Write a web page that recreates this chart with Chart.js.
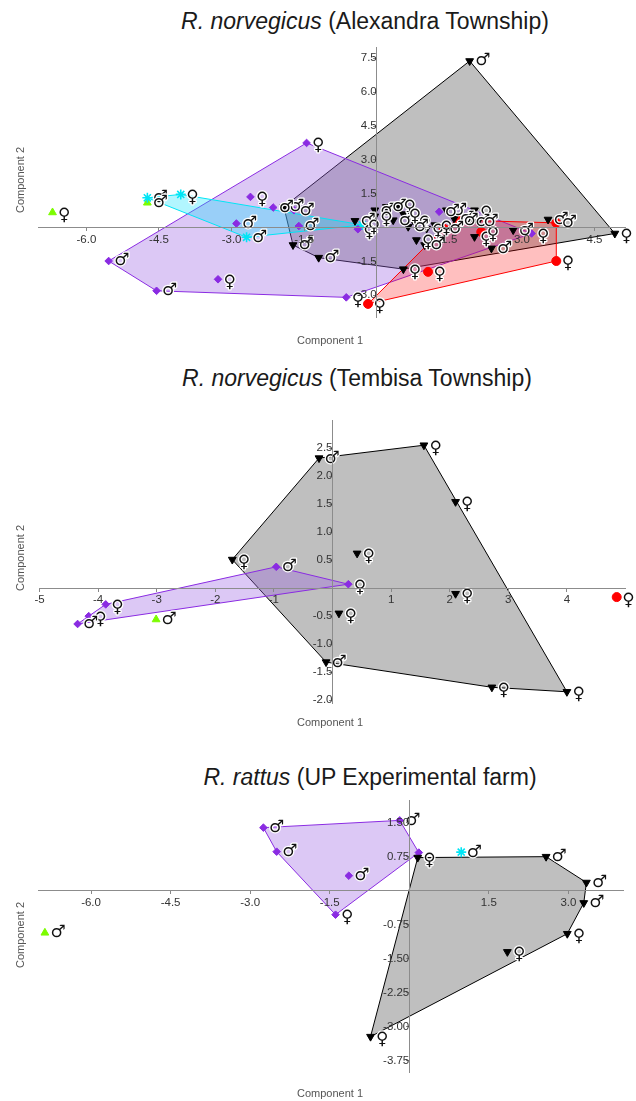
<!DOCTYPE html>
<html>
<head>
<meta charset="utf-8">
<script src="https://cdn.jsdelivr.net/npm/chart.js@4.4.1/dist/chart.umd.min.js"></script>
<style>
  body { margin: 0; background: #fff; width: 636px; height: 1101px; position: relative; overflow: hidden;
         font-family: "Liberation Sans", Arial, sans-serif; }
  canvas { position: absolute; left: 0; }
  .title { position: absolute; font-size: 23px; color: #1a1a1a; white-space: nowrap; transform: translate(-50%, -50%); }
  .xlab, .ylab { position: absolute; font-size: 11px; color: #555; white-space: nowrap; transform: translate(-50%, -50%); }
  .ylab { transform: translate(-50%, -50%) rotate(-90deg); }
</style>
</head>
<body>
<div class="title" style="left:365px;top:21px"><i>R. norvegicus</i> (Alexandra Township)</div>
<div class="title" style="left:357px;top:378px"><i>R. norvegicus</i> (Tembisa Township)</div>
<div class="title" style="left:370px;top:777px"><i>R. rattus</i> (UP Experimental farm)</div>

<canvas id="c1" width="636" height="350" style="top:0px"></canvas>
<canvas id="c2" width="636" height="370" style="top:360px"></canvas>
<canvas id="c3" width="636" height="361" style="top:740px"></canvas>

<div class="xlab" style="left:330px;top:340px">Component 1</div>
<div class="ylab" style="left:20px;top:180px">Component 2</div>
<div class="xlab" style="left:330px;top:722px">Component 1</div>
<div class="ylab" style="left:20px;top:558px">Component 2</div>
<div class="xlab" style="left:330px;top:1093px">Component 1</div>
<div class="ylab" style="left:20px;top:935px">Component 2</div>

<script>
// ---- R. norvegicus, Alexandra Township ----
const alexBlack = [[1.92,7.38],[4.92,-0.26],[0.55,-1.84],[-1.2,-1.33],[-1.73,-0.77],[-1.92,0.92],[-0.45,0.3],
  [-0.04,0.77],[-0.04,0.5],[0.2,0.92],[0.44,1.0],[0.34,0.33],[0.75,0.33],[0.65,0.04],[1.03,-0.04],[0.82,-0.55],
  [0.99,-0.77],[1.44,0.77],[1.2,0.11],[2.02,0.77],[1.92,0.26],[2.09,0.26],[2.02,-0.41],[2.37,-0.92],[3.54,0.36],
  [2.82,-0.11],[0.55,0.6],[1.6,0.4]];
const alexBlackSex = ['M','F','F','M','M','M','M','M','F','M','F','M','F','M','F','F','M','M','F','F','M','M','F','M','M','M','F','M'];
const alexPurple = [[-1.45,3.75],[-5.54,-1.48],[-4.55,-2.8],[-0.63,-3.09],[3.2,-0.26],[-2.61,1.36],[-2.14,0.89],
  [-1.71,0.77],[-2.9,0.18],[-1.61,0.07],[-3.28,-2.29],[-0.39,-0.07],[1.29,0.7]];
const alexPurpleSex = ['F','M','M','F','F','F','M','M','M','M','F','F','M'];
const alexRed = [[-0.18,-3.38],[1.06,-1.96],[1.38,-0.04],[1.68,0.33],[2.16,-0.19],[3.71,0.21],[3.71,-1.48]];
const alexRedSex = ['F','F','M','M','F','M','F'];
const alexCyan = [[-4.74,1.32],[-4.05,1.47],[-2.69,-0.43],[-0.3,0.12]];
const alexCyanSex = ['M','F','M','F'];
const alexGreen = [[-6.70,0.67],[-4.74,1.1]];
const alexGreenSex = ['F','M'];
const alexXTicks = [-6.0,-4.5,-3.0,-1.5,1.5,3.0,4.5];
const alexYTicks = [-3.0,-1.5,1.5,3.0,4.5,6.0,7.5];

// ---- R. norvegicus, Tembisa Township ----
const temBlack = [[-0.23,2.32],[1.56,2.55],[2.1,1.54],[0.42,0.62],[-1.71,0.51],[2.1,-0.1],[0.11,-0.45],
  [-0.11,-1.32],[2.72,-1.77],[4.0,-1.85]];
const temBlackSex = ['M','F','F','F','F','F','F','M','F','F'];
const temPurple = [[-0.96,0.38],[0.27,0.07],[-3.87,-0.29],[-4.16,-0.5],[-4.35,-0.64]];
const temPurpleSex = ['M','F','F','F','M'];
const temGreen = [[-3.01,-0.56]];
const temGreenSex = ['M'];
const temRed = [[4.85,-0.16]];
const temRedSex = ['F'];
const temXTicks = [-5,-4,-3,-2,-1,1,2,3,4];
const temYTicks = [-2.0,-1.5,-1.0,-0.5,0.5,1.0,1.5,2.0,2.5];

// ---- R. rattus, UP Experimental farm ----
const upBlack = [[0.16,0.73],[2.58,0.75],[3.34,0.18],[3.29,-0.27],[2.98,-0.95],[1.85,-1.35],[-0.73,-3.22]];
const upBlackSex = ['F','M','M','M','F','F','F'];
const upPurple = [[-2.75,1.39],[-0.18,1.55],[0.18,0.84],[-2.5,0.86],[-1.14,0.33],[-1.39,-0.53]];
const upPurpleSex = ['M','M',null,'M','M','F'];
const upCyan = [[0.98,0.85]];
const upCyanSex = ['M'];
const upGreen = [[-6.87,-0.93]];
const upGreenSex = ['M'];
const upXTicks = [-6.0,-4.5,-3.0,-1.5,1.5,3.0];
const upYTicks = [-3.75,-3.00,-2.25,-1.50,-0.75,0.75,1.50];

// group looks
const styles = {
  black:  { point: 'triangle', rot: 180, color: '#000', line: '#000', fill: '#bfbfbf', r: 4.5 },
  purple: { point: 'rectRot', rot: 0, color: '#8a2be2', line: '#8a2be2', fill: 'rgba(155,98,226,0.35)', r: 3.8 },
  cyan:   { point: 'star', rot: 0, color: '#00e5f5', line: '#00e5f5', fill: 'rgba(0,225,255,0.3)', r: 5 },
  red:    { point: 'circle', rot: 0, color: '#ff0000', line: '#ff0000', fill: 'rgba(255,0,0,0.25)', r: 4.5 },
  green:  { point: 'triangle', rot: 0, color: '#7cfc00', line: '#7cfc00', fill: 'rgba(124,252,0,0.3)', r: 4.5 }
};
const hullOrder = { black: 10, purple: 9, cyan: 8, red: 7, green: 6 };

// convex hull (monotone chain), closed
function hull(pts) {
  const p = pts.map(a => ({ x: a[0], y: a[1] })).sort((a, b) => a.x - b.x || a.y - b.y);
  const cross = (o, a, b) => (a.x - o.x) * (b.y - o.y) - (a.y - o.y) * (b.x - o.x);
  const lower = [], upper = [];
  for (const q of p) {
    while (lower.length >= 2 && cross(lower[lower.length - 2], lower[lower.length - 1], q) <= 0) lower.pop();
    lower.push(q);
  }
  for (const q of p.slice().reverse()) {
    while (upper.length >= 2 && cross(upper[upper.length - 2], upper[upper.length - 1], q) <= 0) upper.pop();
    upper.push(q);
  }
  upper.pop(); lower.pop();
  const h = lower.concat(upper);
  h.push(h[0]);
  return h;
}

// ♂ / ♀ next to each point
const sexPlugin = {
  id: 'sexLabels',
  afterDatasetsDraw(chart) {
    const ctx = chart.ctx;
    ctx.save();
    ctx.font = '17px "DejaVu Sans"';
    ctx.textAlign = 'left';
    ctx.textBaseline = 'middle';
    ctx.lineJoin = 'round';
    chart.data.datasets.forEach((ds, i) => {
      if (!ds.sexes) return;
      chart.getDatasetMeta(i).data.forEach((el, j) => {
        const s = ds.sexes[j];
        if (!s) return;
        const ch = (s === 'M' ? '\u2642' : '\u2640') + '\uFE0E';
        const x = el.x + 5.5, y = el.y + (s === 'M' ? 0 : 3);
        ctx.lineWidth = 2.5;
        ctx.strokeStyle = '#fff';
        ctx.strokeText(ch, x, y);
        ctx.fillStyle = '#111';
        ctx.fillText(ch, x, y);
      });
    });
    ctx.restore();
  }
};

function makeAxis(min, max, ticks, fmt, pos) {
  return {
    type: 'linear', min: min, max: max, position: pos,
    afterBuildTicks: s => { s.ticks = ticks.map(v => ({ value: v })); },
    ticks: { z: 2, autoSkip: false, maxRotation: 0, padding: 2, color: '#333',
             font: { family: '"Liberation Sans Narrow", "Liberation Sans", sans-serif', size: 11.5 },
             callback: v => fmt(v) },
    grid: { z: 1, display: true, drawOnChartArea: false, drawTicks: true, tickLength: 3, color: '#888' },
    border: { z: 1, display: true, color: '#8c8c8c', width: 1 }
  };
}

function makePanel(id, groups, xr, yr, xt, yt, fx, fy, pad) {
  const datasets = [];
  groups.forEach(g => {
    const st = styles[g.kind];
    if (g.pts.length >= 3) {
      datasets.push({
        data: hull(g.pts), showLine: true, fill: 'shape', pointRadius: 0,
        borderColor: st.line, borderWidth: 1, backgroundColor: st.fill, order: hullOrder[g.kind]
      });
    }
  });
  groups.forEach(g => {
    const st = styles[g.kind];
    datasets.push({
      data: g.pts.map(a => ({ x: a[0], y: a[1] })), sexes: g.sex,
      pointStyle: st.point, rotation: st.rot, pointRadius: st.r,
      pointBackgroundColor: st.color, pointBorderColor: st.color,
      pointBorderWidth: g.kind === 'cyan' ? 1.6 : 1, showLine: false, order: 1
    });
  });
  return new Chart(document.getElementById(id), {
    type: 'scatter',
    data: { datasets: datasets },
    options: {
      responsive: false, animation: false,
      layout: { padding: pad },
      plugins: { legend: { display: false }, tooltip: { enabled: false } },
      scales: {
        x: makeAxis(xr[0], xr[1], xt, fx, { y: 0 }),
        y: makeAxis(yr[0], yr[1], yt, fy, { x: 0 })
      }
    },
    plugins: [sexPlugin]
  });
}

const f1 = v => v.toFixed(1), f0 = v => v.toFixed(0), f2 = v => v.toFixed(2);

makePanel('c1', [
  { kind: 'black', pts: alexBlack, sex: alexBlackSex },
  { kind: 'purple', pts: alexPurple, sex: alexPurpleSex },
  { kind: 'cyan', pts: alexCyan, sex: alexCyanSex },
  { kind: 'red', pts: alexRed, sex: alexRedSex },
  { kind: 'green', pts: alexGreen, sex: alexGreenSex }
], [-7, 5.13], [-3.96, 8.0], alexXTicks, alexYTicks, f1, f1, { left: 38, right: 11, top: 47, bottom: 33 });

makePanel('c2', [
  { kind: 'black', pts: temBlack, sex: temBlackSex },
  { kind: 'purple', pts: temPurple, sex: temPurpleSex },
  { kind: 'green', pts: temGreen, sex: temGreenSex },
  { kind: 'red', pts: temRed, sex: temRedSex }
], [-5, 5], [-2.05, 3.0], temXTicks, temYTicks, f0, f1, { left: 39.5, right: 10.5, top: 60, bottom: 27 });

makePanel('c3', [
  { kind: 'black', pts: upBlack, sex: upBlackSex },
  { kind: 'purple', pts: upPurple, sex: upPurpleSex },
  { kind: 'cyan', pts: upCyan, sex: upCyanSex },
  { kind: 'green', pts: upGreen, sex: upGreenSex }
], [-7, 4.03], [-4.0, 2.0], upXTicks, upYTicks, f1, f2, { left: 38, right: 13, top: 60, bottom: 29 });
</script>
</body>
</html>
